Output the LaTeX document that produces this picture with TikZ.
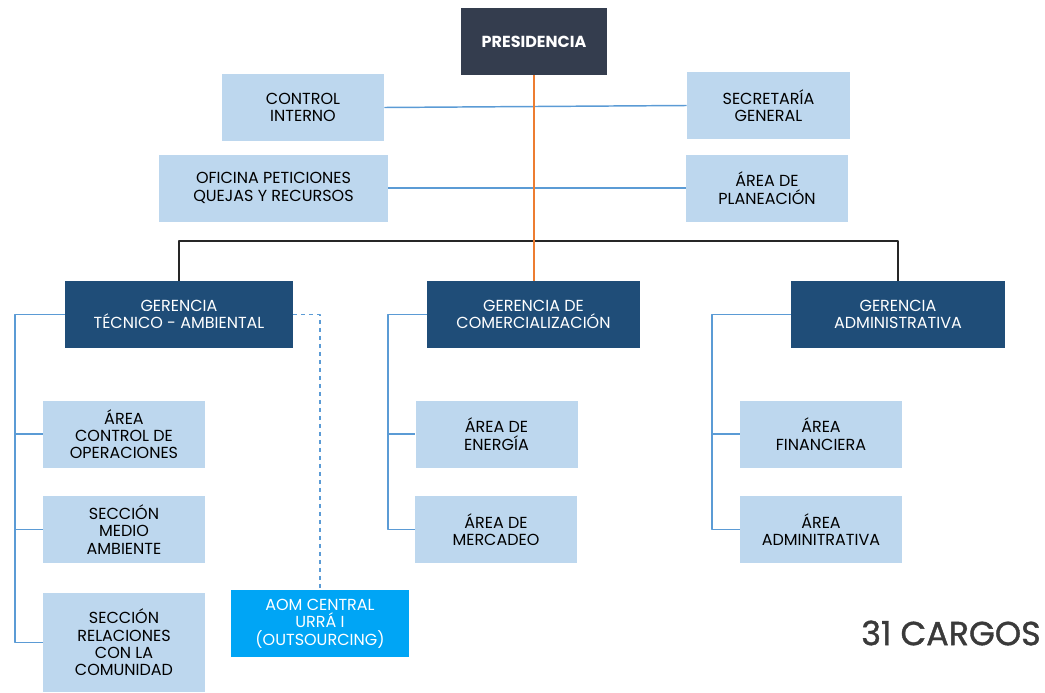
\documentclass[tikz,border=0pt]{standalone}
\usepackage{fontspec}
\setmainfont{Poppins}
\usetikzlibrary{calc}

\definecolor{presid}{HTML}{343D4E}
\definecolor{gerencia}{HTML}{1F4D78}
\definecolor{areaclara}{HTML}{BDD7EE}
\definecolor{lineaazul}{HTML}{5B9BD5}
\definecolor{lineanaranja}{HTML}{ED7D31}
\definecolor{outsrc}{HTML}{00A5F5}
\definecolor{cargos}{HTML}{3A3A3A}

\tikzset{
  caja/.style={rectangle, inner sep=2pt, align=center, minimum height=50.25pt,
    font=\fontsize{12}{13}\selectfont},
  area/.style={caja, fill=areaclara, text=black, minimum width=#1*0.75pt},
  area/.default=162,
  jefe/.style={caja, fill=gerencia, text=white, minimum width=#1*0.75pt},
  azul/.style={draw=lineaazul, line width=1.1pt},
  negro/.style={draw=black!85, line width=1pt},
}

\begin{document}
\begin{tikzpicture}[x=0.75pt, y=-0.75pt, line join=round, line cap=butt]
	\useasboundingbox (0,0) rectangle (1045,692);
	\node[caja, fill=presid, text=white, minimum width=109.5pt, font=\fontsize{12}{13}\selectfont\bfseries] (pres) at (534,41.5) {PRESIDENCIA};
	\node[area] (ci) at (303,107.5) {CONTROL\\INTERNO};
	\node[area=163] (sg) at (768.5,105.5) {SECRETARÍA\\GENERAL};
	\node[area=229] (opq) at (273.5,188) {OFICINA PETICIONES\\QUEJAS Y RECURSOS};
	\node[area] (plan) at (767,188) {ÁREA DE\\PLANEACIÓN};
	\node[jefe=228] (gta) at (179,314.5) {GERENCIA\\TÉCNICO - AMBIENTAL};
	\node[jefe=213] (gcom) at (533.5,314.5) {GERENCIA DE\\COMERCIALIZACIÓN};
	\node[jefe=214] (gad) at (898,314.5) {GERENCIA\\ADMINISTRATIVA};
	\node[area] (aco) at (124,434) {ÁREA\\CONTROL DE\\OPERACIONES};
	\node[area] (sma) at (124,529.5) {SECCIÓN\\MEDIO\\AMBIENTE};
	\node[area, minimum height=74.25pt] (rel) at (124,642.5) {SECCIÓN\\RELACIONES\\CON LA\\COMUNIDAD};
	\node[caja, fill=outsrc, text=white, minimum width=133.5pt] (aom) at (320,623.5) {AOM CENTRAL\\URRÁ I\\(OUTSOURCING)};
	\node[area] (ene) at (496.5,434) {ÁREA DE\\ENERGÍA};
	\node[area] (mer) at (496,529.5) {ÁREA DE\\MERCADEO};
	\node[area] (fin) at (821,434) {ÁREA\\FINANCIERA};
	\node[area] (adm) at (821,529.5) {ÁREA\\ADMINITRATIVA};
	\node[text=cargos, font=\fontsize{25}{27}\selectfont\addfontfeature{FakeBold=1.2}] (total) at (951,633) {31 CARGOS};

	\coordinate (barra) at (536,241);
	\coordinate (ejeT) at (15,314.5);
	\coordinate (ejeC) at (388,314.5);
	\coordinate (ejeA) at (712,314.5);

	\draw[azul] (ci.east) -- (sg.west);
	\draw[azul] (opq.east) -- (plan.west);
	\draw[negro] (gta.north) |- (barra) -| (gad.north);
	\draw[draw=lineanaranja, line width=1.1pt] (pres.south) -- (pres.south |- gcom.north);
	\draw[azul] (gta.west) -- (ejeT) |- (rel.west);
	\draw[azul] (ejeT) |- (aco.west);
	\draw[azul] (ejeT) |- (sma.west);
	\draw[azul, dashed] (gta.east) -| (aom.north);
	\draw[azul] (gcom.west) -- (ejeC) |- (mer.west);
	\draw[azul] (ejeC) |- (ene.west);
	\draw[azul] (gad.west) -- (ejeA) |- (adm.west);
	\draw[azul] (ejeA) |- (fin.west);
\end{tikzpicture}
\end{document}
